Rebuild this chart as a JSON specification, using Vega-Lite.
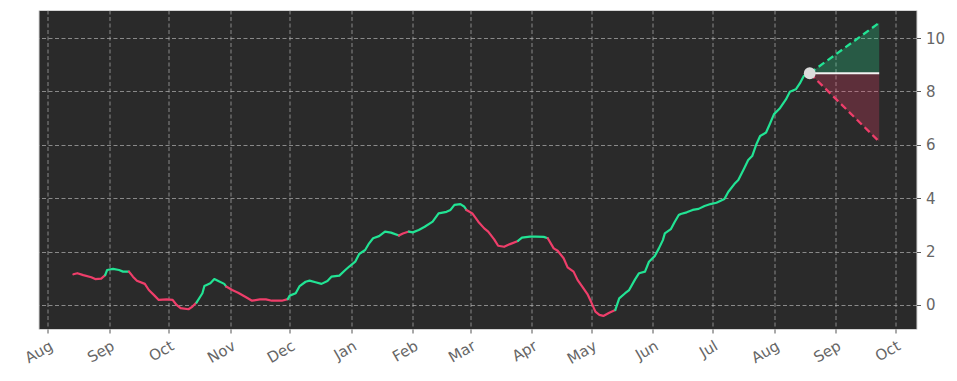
{
  "$schema": "https://vega.github.io/schema/vega-lite/v6.json",
  "width": 878,
  "height": 319,
  "autosize": {"type": "none"},
  "padding": {"left": 38.5, "top": 10, "right": 40.5, "bottom": 52},
  "background": "#ffffff",
  "config": {
    "view": {"fill": "#2a2a2a", "stroke": "#d4d4d4", "strokeWidth": 1},
    "axis": {
      "grid": true,
      "gridColor": "#b8b8b8",
      "gridDash": [4, 2.5],
      "gridWidth": 0.8,
      "gridOpacity": 0.85,
      "domain": false,
      "tickColor": "#555555",
      "tickSize": 4,
      "labelColor": "#666666",
      "labelFont": "DejaVu Sans",
      "labelFontSize": 15,
      "title": null
    }
  },
  "datasets": {
    "series": [
      {"date": "2023-08-14", "value": 1.15, "segment": 1, "trend": "down"},
      {"date": "2023-08-16", "value": 1.19, "segment": 1, "trend": "down"},
      {"date": "2023-08-19", "value": 1.12, "segment": 1, "trend": "down"},
      {"date": "2023-08-23", "value": 1.04, "segment": 1, "trend": "down"},
      {"date": "2023-08-25", "value": 0.97, "segment": 1, "trend": "down"},
      {"date": "2023-08-28", "value": 0.99, "segment": 1, "trend": "down"},
      {"date": "2023-08-30", "value": 1.12, "segment": 1, "trend": "down"},
      {"date": "2023-08-30", "value": 1.12, "segment": 2, "trend": "up"},
      {"date": "2023-08-31", "value": 1.31, "segment": 2, "trend": "up"},
      {"date": "2023-09-03", "value": 1.35, "segment": 2, "trend": "up"},
      {"date": "2023-09-06", "value": 1.31, "segment": 2, "trend": "up"},
      {"date": "2023-09-08", "value": 1.25, "segment": 2, "trend": "up"},
      {"date": "2023-09-11", "value": 1.25, "segment": 2, "trend": "up"},
      {"date": "2023-09-11", "value": 1.25, "segment": 3, "trend": "down"},
      {"date": "2023-09-13", "value": 1.06, "segment": 3, "trend": "down"},
      {"date": "2023-09-15", "value": 0.91, "segment": 3, "trend": "down"},
      {"date": "2023-09-19", "value": 0.79, "segment": 3, "trend": "down"},
      {"date": "2023-09-21", "value": 0.56, "segment": 3, "trend": "down"},
      {"date": "2023-09-24", "value": 0.34, "segment": 3, "trend": "down"},
      {"date": "2023-09-26", "value": 0.19, "segment": 3, "trend": "down"},
      {"date": "2023-09-30", "value": 0.21, "segment": 3, "trend": "down"},
      {"date": "2023-10-03", "value": 0.19, "segment": 3, "trend": "down"},
      {"date": "2023-10-05", "value": 0.0, "segment": 3, "trend": "down"},
      {"date": "2023-10-07", "value": -0.12, "segment": 3, "trend": "down"},
      {"date": "2023-10-11", "value": -0.16, "segment": 3, "trend": "down"},
      {"date": "2023-10-13", "value": -0.06, "segment": 3, "trend": "down"},
      {"date": "2023-10-15", "value": 0.09, "segment": 3, "trend": "down"},
      {"date": "2023-10-15", "value": 0.09, "segment": 4, "trend": "up"},
      {"date": "2023-10-18", "value": 0.44, "segment": 4, "trend": "up"},
      {"date": "2023-10-19", "value": 0.71, "segment": 4, "trend": "up"},
      {"date": "2023-10-22", "value": 0.81, "segment": 4, "trend": "up"},
      {"date": "2023-10-24", "value": 0.97, "segment": 4, "trend": "up"},
      {"date": "2023-10-26", "value": 0.9, "segment": 4, "trend": "up"},
      {"date": "2023-10-29", "value": 0.79, "segment": 4, "trend": "up"},
      {"date": "2023-10-30", "value": 0.69, "segment": 4, "trend": "up"},
      {"date": "2023-10-30", "value": 0.69, "segment": 5, "trend": "down"},
      {"date": "2023-11-02", "value": 0.56, "segment": 5, "trend": "down"},
      {"date": "2023-11-05", "value": 0.46, "segment": 5, "trend": "down"},
      {"date": "2023-11-09", "value": 0.29, "segment": 5, "trend": "down"},
      {"date": "2023-11-12", "value": 0.16, "segment": 5, "trend": "down"},
      {"date": "2023-11-16", "value": 0.21, "segment": 5, "trend": "down"},
      {"date": "2023-11-19", "value": 0.21, "segment": 5, "trend": "down"},
      {"date": "2023-11-22", "value": 0.16, "segment": 5, "trend": "down"},
      {"date": "2023-11-27", "value": 0.16, "segment": 5, "trend": "down"},
      {"date": "2023-11-30", "value": 0.22, "segment": 5, "trend": "down"},
      {"date": "2023-11-30", "value": 0.22, "segment": 6, "trend": "up"},
      {"date": "2023-12-01", "value": 0.35, "segment": 6, "trend": "up"},
      {"date": "2023-12-04", "value": 0.44, "segment": 6, "trend": "up"},
      {"date": "2023-12-06", "value": 0.71, "segment": 6, "trend": "up"},
      {"date": "2023-12-09", "value": 0.87, "segment": 6, "trend": "up"},
      {"date": "2023-12-11", "value": 0.91, "segment": 6, "trend": "up"},
      {"date": "2023-12-14", "value": 0.85, "segment": 6, "trend": "up"},
      {"date": "2023-12-17", "value": 0.79, "segment": 6, "trend": "up"},
      {"date": "2023-12-20", "value": 0.9, "segment": 6, "trend": "up"},
      {"date": "2023-12-22", "value": 1.06, "segment": 6, "trend": "up"},
      {"date": "2023-12-26", "value": 1.1, "segment": 6, "trend": "up"},
      {"date": "2023-12-29", "value": 1.31, "segment": 6, "trend": "up"},
      {"date": "2023-12-31", "value": 1.44, "segment": 6, "trend": "up"},
      {"date": "2024-01-03", "value": 1.62, "segment": 6, "trend": "up"},
      {"date": "2024-01-05", "value": 1.91, "segment": 6, "trend": "up"},
      {"date": "2024-01-08", "value": 2.06, "segment": 6, "trend": "up"},
      {"date": "2024-01-10", "value": 2.31, "segment": 6, "trend": "up"},
      {"date": "2024-01-12", "value": 2.5, "segment": 6, "trend": "up"},
      {"date": "2024-01-15", "value": 2.58, "segment": 6, "trend": "up"},
      {"date": "2024-01-18", "value": 2.75, "segment": 6, "trend": "up"},
      {"date": "2024-01-21", "value": 2.71, "segment": 6, "trend": "up"},
      {"date": "2024-01-25", "value": 2.6, "segment": 6, "trend": "up"},
      {"date": "2024-01-25", "value": 2.6, "segment": 7, "trend": "down"},
      {"date": "2024-01-27", "value": 2.68, "segment": 7, "trend": "down"},
      {"date": "2024-01-30", "value": 2.75, "segment": 7, "trend": "down"},
      {"date": "2024-01-30", "value": 2.75, "segment": 8, "trend": "up"},
      {"date": "2024-02-01", "value": 2.72, "segment": 8, "trend": "up"},
      {"date": "2024-02-04", "value": 2.81, "segment": 8, "trend": "up"},
      {"date": "2024-02-07", "value": 2.93, "segment": 8, "trend": "up"},
      {"date": "2024-02-11", "value": 3.12, "segment": 8, "trend": "up"},
      {"date": "2024-02-14", "value": 3.43, "segment": 8, "trend": "up"},
      {"date": "2024-02-18", "value": 3.49, "segment": 8, "trend": "up"},
      {"date": "2024-02-20", "value": 3.56, "segment": 8, "trend": "up"},
      {"date": "2024-02-22", "value": 3.75, "segment": 8, "trend": "up"},
      {"date": "2024-02-25", "value": 3.78, "segment": 8, "trend": "up"},
      {"date": "2024-02-27", "value": 3.68, "segment": 8, "trend": "up"},
      {"date": "2024-02-28", "value": 3.56, "segment": 8, "trend": "up"},
      {"date": "2024-02-28", "value": 3.56, "segment": 9, "trend": "down"},
      {"date": "2024-03-02", "value": 3.43, "segment": 9, "trend": "down"},
      {"date": "2024-03-05", "value": 3.12, "segment": 9, "trend": "down"},
      {"date": "2024-03-08", "value": 2.87, "segment": 9, "trend": "down"},
      {"date": "2024-03-10", "value": 2.75, "segment": 9, "trend": "down"},
      {"date": "2024-03-13", "value": 2.46, "segment": 9, "trend": "down"},
      {"date": "2024-03-15", "value": 2.22, "segment": 9, "trend": "down"},
      {"date": "2024-03-18", "value": 2.18, "segment": 9, "trend": "down"},
      {"date": "2024-03-21", "value": 2.28, "segment": 9, "trend": "down"},
      {"date": "2024-03-25", "value": 2.4, "segment": 9, "trend": "down"},
      {"date": "2024-03-25", "value": 2.4, "segment": 10, "trend": "up"},
      {"date": "2024-03-27", "value": 2.52, "segment": 10, "trend": "up"},
      {"date": "2024-03-31", "value": 2.56, "segment": 10, "trend": "up"},
      {"date": "2024-04-03", "value": 2.56, "segment": 10, "trend": "up"},
      {"date": "2024-04-07", "value": 2.55, "segment": 10, "trend": "up"},
      {"date": "2024-04-09", "value": 2.5, "segment": 10, "trend": "up"},
      {"date": "2024-04-09", "value": 2.5, "segment": 11, "trend": "down"},
      {"date": "2024-04-12", "value": 2.12, "segment": 11, "trend": "down"},
      {"date": "2024-04-14", "value": 2.03, "segment": 11, "trend": "down"},
      {"date": "2024-04-17", "value": 1.75, "segment": 11, "trend": "down"},
      {"date": "2024-04-19", "value": 1.41, "segment": 11, "trend": "down"},
      {"date": "2024-04-22", "value": 1.25, "segment": 11, "trend": "down"},
      {"date": "2024-04-24", "value": 0.94, "segment": 11, "trend": "down"},
      {"date": "2024-04-27", "value": 0.62, "segment": 11, "trend": "down"},
      {"date": "2024-04-29", "value": 0.41, "segment": 11, "trend": "down"},
      {"date": "2024-05-01", "value": 0.09, "segment": 11, "trend": "down"},
      {"date": "2024-05-03", "value": -0.25, "segment": 11, "trend": "down"},
      {"date": "2024-05-05", "value": -0.37, "segment": 11, "trend": "down"},
      {"date": "2024-05-07", "value": -0.41, "segment": 11, "trend": "down"},
      {"date": "2024-05-10", "value": -0.29, "segment": 11, "trend": "down"},
      {"date": "2024-05-13", "value": -0.19, "segment": 11, "trend": "down"},
      {"date": "2024-05-13", "value": -0.19, "segment": 12, "trend": "up"},
      {"date": "2024-05-15", "value": 0.25, "segment": 12, "trend": "up"},
      {"date": "2024-05-18", "value": 0.44, "segment": 12, "trend": "up"},
      {"date": "2024-05-20", "value": 0.56, "segment": 12, "trend": "up"},
      {"date": "2024-05-23", "value": 0.96, "segment": 12, "trend": "up"},
      {"date": "2024-05-25", "value": 1.19, "segment": 12, "trend": "up"},
      {"date": "2024-05-28", "value": 1.25, "segment": 12, "trend": "up"},
      {"date": "2024-05-30", "value": 1.62, "segment": 12, "trend": "up"},
      {"date": "2024-06-02", "value": 1.84, "segment": 12, "trend": "up"},
      {"date": "2024-06-04", "value": 2.12, "segment": 12, "trend": "up"},
      {"date": "2024-06-06", "value": 2.43, "segment": 12, "trend": "up"},
      {"date": "2024-06-07", "value": 2.68, "segment": 12, "trend": "up"},
      {"date": "2024-06-10", "value": 2.84, "segment": 12, "trend": "up"},
      {"date": "2024-06-12", "value": 3.12, "segment": 12, "trend": "up"},
      {"date": "2024-06-14", "value": 3.37, "segment": 12, "trend": "up"},
      {"date": "2024-06-15", "value": 3.41, "segment": 12, "trend": "up"},
      {"date": "2024-06-18", "value": 3.47, "segment": 12, "trend": "up"},
      {"date": "2024-06-21", "value": 3.56, "segment": 12, "trend": "up"},
      {"date": "2024-06-24", "value": 3.6, "segment": 12, "trend": "up"},
      {"date": "2024-06-27", "value": 3.71, "segment": 12, "trend": "up"},
      {"date": "2024-06-30", "value": 3.78, "segment": 12, "trend": "up"},
      {"date": "2024-07-03", "value": 3.83, "segment": 12, "trend": "up"},
      {"date": "2024-07-07", "value": 3.97, "segment": 12, "trend": "up"},
      {"date": "2024-07-09", "value": 4.24, "segment": 12, "trend": "up"},
      {"date": "2024-07-12", "value": 4.53, "segment": 12, "trend": "up"},
      {"date": "2024-07-14", "value": 4.68, "segment": 12, "trend": "up"},
      {"date": "2024-07-17", "value": 5.12, "segment": 12, "trend": "up"},
      {"date": "2024-07-19", "value": 5.43, "segment": 12, "trend": "up"},
      {"date": "2024-07-21", "value": 5.58, "segment": 12, "trend": "up"},
      {"date": "2024-07-23", "value": 6.0, "segment": 12, "trend": "up"},
      {"date": "2024-07-25", "value": 6.33, "segment": 12, "trend": "up"},
      {"date": "2024-07-28", "value": 6.46, "segment": 12, "trend": "up"},
      {"date": "2024-07-30", "value": 6.8, "segment": 12, "trend": "up"},
      {"date": "2024-08-01", "value": 7.15, "segment": 12, "trend": "up"},
      {"date": "2024-08-04", "value": 7.37, "segment": 12, "trend": "up"},
      {"date": "2024-08-07", "value": 7.7, "segment": 12, "trend": "up"},
      {"date": "2024-08-09", "value": 7.99, "segment": 12, "trend": "up"},
      {"date": "2024-08-12", "value": 8.08, "segment": 12, "trend": "up"},
      {"date": "2024-08-14", "value": 8.3, "segment": 12, "trend": "up"},
      {"date": "2024-08-16", "value": 8.58, "segment": 12, "trend": "up"},
      {"date": "2024-08-19", "value": 8.68, "segment": 12, "trend": "up"}
    ],
    "forecast": [
      {"date": "2024-08-19", "base": 8.68, "upper": 8.68, "lower": 8.68},
      {"date": "2024-09-23", "base": 8.68, "upper": 10.57, "lower": 6.12}
    ],
    "last": [
      {"date": "2024-08-19", "value": 8.68}
    ]
  },
  "encoding": {
    "x": {
      "field": "date",
      "type": "temporal",
      "scale": {
        "type": "utc",
        "domain": [
          {"year": 2023, "month": 7, "date": 27, "hours": 10, "utc": true},
          {"year": 2024, "month": 10, "date": 11, "hours": 19, "utc": true}
        ]
      },
      "axis": {
        "values": [
          {"year": 2023, "month": 8, "date": 1, "utc": true},
          {"year": 2023, "month": 9, "date": 1, "utc": true},
          {"year": 2023, "month": 10, "date": 1, "utc": true},
          {"year": 2023, "month": 11, "date": 1, "utc": true},
          {"year": 2023, "month": 12, "date": 1, "utc": true},
          {"year": 2024, "month": 1, "date": 1, "utc": true},
          {"year": 2024, "month": 2, "date": 1, "utc": true},
          {"year": 2024, "month": 3, "date": 1, "utc": true},
          {"year": 2024, "month": 4, "date": 1, "utc": true},
          {"year": 2024, "month": 5, "date": 1, "utc": true},
          {"year": 2024, "month": 6, "date": 1, "utc": true},
          {"year": 2024, "month": 7, "date": 1, "utc": true},
          {"year": 2024, "month": 8, "date": 1, "utc": true},
          {"year": 2024, "month": 9, "date": 1, "utc": true},
          {"year": 2024, "month": 10, "date": 1, "utc": true}
        ],
        "format": "%b",
        "labelAngle": -30,
        "labelAlign": "right",
        "labelBaseline": "top",
        "labelPadding": 5,
        "labelFontSize": 15,
        "labelFont": "DejaVu Sans",
        "labelColor": "#666666",
        "labelOverlap": false,
        "labelFlush": false
      }
    }
  },
  "layer": [
    {
      "data": {"name": "forecast"},
      "mark": {"type": "area", "color": "#22e394", "opacity": 0.26},
      "encoding": {
        "y": {"field": "upper", "type": "quantitative", "scale": {"domain": [-0.9, 11.05], "nice": false, "zero": false},
          "axis": {"orient": "right", "values": [0, 2, 4, 6, 8, 10], "labelPadding": 5, "labelFontSize": 15, "labelFont": "DejaVu Sans", "labelColor": "#666666"}},
        "y2": {"field": "base"}
      }
    },
    {
      "data": {"name": "forecast"},
      "mark": {"type": "area", "color": "#ee3e6a", "opacity": 0.26},
      "encoding": {
        "y": {"field": "base", "type": "quantitative"},
        "y2": {"field": "lower"}
      }
    },
    {
      "data": {"name": "forecast"},
      "mark": {"type": "line", "color": "#f2f2f2", "strokeWidth": 2},
      "encoding": {"y": {"field": "base", "type": "quantitative"}}
    },
    {
      "data": {"name": "forecast"},
      "mark": {"type": "line", "color": "#22e394", "strokeWidth": 2.3, "strokeDash": [7, 4]},
      "encoding": {"y": {"field": "upper", "type": "quantitative"}}
    },
    {
      "data": {"name": "forecast"},
      "mark": {"type": "line", "color": "#ee3e6a", "strokeWidth": 2.3, "strokeDash": [7, 4]},
      "encoding": {"y": {"field": "lower", "type": "quantitative"}}
    },
    {
      "data": {"name": "series"},
      "mark": {"type": "line", "strokeWidth": 2.2, "strokeCap": "round", "strokeJoin": "round"},
      "encoding": {
        "y": {"field": "value", "type": "quantitative"},
        "color": {"field": "trend", "type": "nominal", "scale": {"domain": ["up", "down"], "range": ["#22e394", "#ee3e6a"]}, "legend": null},
        "detail": {"field": "segment", "type": "nominal"}
      }
    },
    {
      "data": {"name": "last"},
      "mark": {"type": "point", "filled": true, "color": "#dcdcdc", "opacity": 1, "size": 140},
      "encoding": {"y": {"field": "value", "type": "quantitative"}}
    }
  ]
}
